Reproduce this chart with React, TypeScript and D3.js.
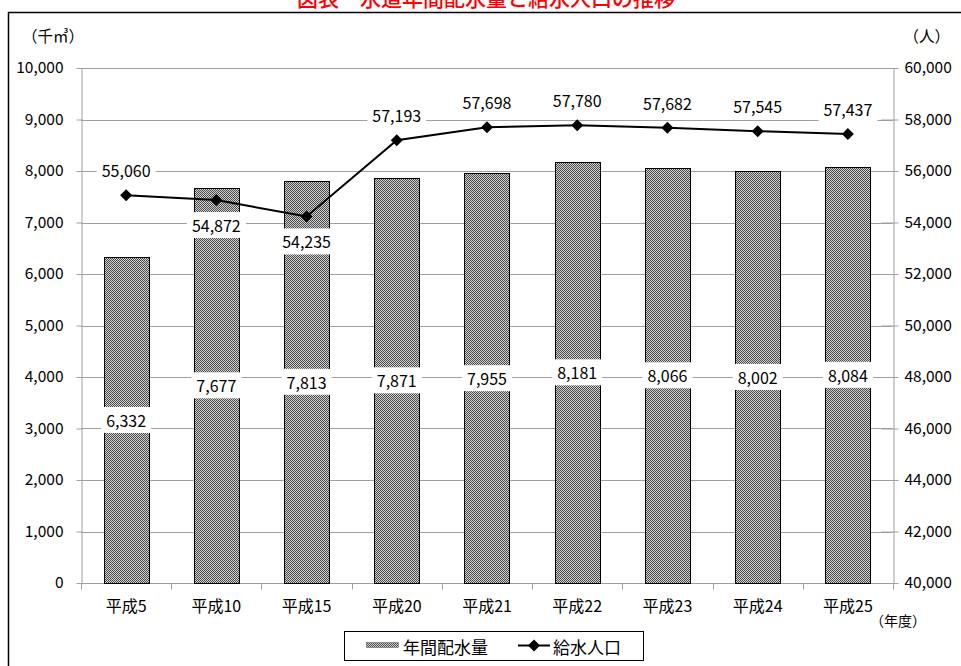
import { useEffect, useRef } from "react";
import * as d3 from "d3";

const years = ["平成5", "平成10", "平成15", "平成20", "平成21", "平成22", "平成23", "平成24", "平成25"];
const waterVolume = [6332, 7677, 7813, 7871, 7955, 8181, 8066, 8002, 8084];
const population = [55060, 54872, 54235, 57193, 57698, 57780, 57682, 57545, 57437];
const leftTicks = [0, 1000, 2000, 3000, 4000, 5000, 6000, 7000, 8000, 9000, 10000];
const rightTicks = [40000, 42000, 44000, 46000, 48000, 50000, 52000, 54000, 56000, 58000, 60000];
// population labels drawn under the marker instead of above
const labelsBelow = new Set([1, 2]);

const FONT = "'Noto Sans CJK JP', 'Noto Sans', sans-serif";

const App = () => {
  const svgRef = useRef<SVGSVGElement>(null);

  useEffect(() => {
    const svg = d3.select(svgRef.current);
    svg.selectAll("*").remove();
    const width = 961;
    const height = 666;
    const margin = { top: 68, right: 68, bottom: 83, left: 81 };

    svg.attr("width", width).attr("height", height);

    // checkered fill, drawn as a 4x4 tile
    const defs = svg.append("defs");
    const pat = defs
      .append("pattern")
      .attr("id", "checker")
      .attr("width", 4)
      .attr("height", 4)
      .attr("patternUnits", "userSpaceOnUse");
    pat.append("rect").attr("width", 4).attr("height", 4).attr("fill", "#d0d0d0");
    pat
      .append("path")
      .attr("d", "M0,0h1v1h-1zM2,0h1v1h-1zM1,1h1v1h-1zM3,1h1v1h-1zM0,2h1v1h-1zM2,2h1v1h-1zM1,3h1v1h-1zM3,3h1v1h-1z")
      .attr("fill", "#4c4c4c")
      .attr("shape-rendering", "crispEdges");

    // frame + title
    svg
      .append("path")
      .attr("d", `M8.5,${height + 5} V12.5 H${width + 5}`)
      .attr("fill", "none")
      .attr("stroke", "#000")
      .attr("stroke-width", 1.5);
    svg
      .append("text")
      .attr("x", 486)
      .attr("y", 6)
      .attr("text-anchor", "middle")
      .attr("font-family", FONT)
      .attr("font-size", 21)
      .attr("font-weight", 500)
      .attr("fill", "#ff0000")
      .text("図表　水道年間配水量と給水人口の推移");

    const x = d3
      .scaleBand()
      .domain(years)
      .range([margin.left, width - margin.right])
      .paddingInner(0.5)
      .paddingOuter(0.25);
    const yL = d3.scaleLinear().domain([0, 10000]).range([height - margin.bottom, margin.top]);
    const yR = d3.scaleLinear().domain([40000, 60000]).range([height - margin.bottom, margin.top]);

    const x0 = margin.left;
    const x1 = width - margin.right;
    const yBase = height - margin.bottom;
    const step = (x1 - x0) / years.length;

    // gridlines
    svg
      .append("g")
      .selectAll("line")
      .data(leftTicks.slice(1))
      .join("line")
      .attr("x1", x0)
      .attr("x2", x1)
      .attr("y1", (d) => Math.round(yL(d)) + 0.5)
      .attr("y2", (d) => Math.round(yL(d)) + 0.5)
      .attr("stroke", "#a0a0a0");

    // left axis
    const gL = svg
      .append("g")
      .attr("transform", `translate(${x0 + 0.5},0)`)
      .call(d3.axisLeft(yL).tickValues(leftTicks).tickFormat(d3.format(",")).tickSizeInner(5).tickSizeOuter(0).tickPadding(13));
    gL.selectAll("line").attr("x2", -5).attr("x1", 1);
    // right axis
    const gR = svg
      .append("g")
      .attr("transform", `translate(${x1 + 0.5},0)`)
      .call(d3.axisRight(yR).tickValues(rightTicks).tickFormat(d3.format(",")).tickSizeInner(5).tickSizeOuter(0).tickPadding(6));
    gR.selectAll("line").attr("x1", -12).attr("x2", 5);
    // bottom axis
    const gB = svg
      .append("g")
      .attr("transform", `translate(0,${Math.round(yBase) + 0.5})`)
      .call(d3.axisBottom(x).tickSize(0).tickPadding(17));
    gB.select(".domain").attr("d", `M${x0},0H${x1}`);
    gB
      .append("g")
      .selectAll("line")
      .data(d3.range(years.length + 1))
      .join("line")
      .attr("x1", (i) => Math.round(x0 + step * i) + 0.5)
      .attr("x2", (i) => Math.round(x0 + step * i) + 0.5)
      .attr("y1", 0)
      .attr("y2", 6)
      .attr("stroke", "#a0a0a0");

    svg.selectAll(".domain").attr("stroke", "#a0a0a0");
    svg.selectAll(".tick line").attr("stroke", "#a0a0a0");
    svg
      .selectAll(".tick text")
      .attr("font-family", FONT)
      .attr("font-size", 15.5)
      .attr("fill", "#000");
    gB.selectAll(".tick text").attr("font-size", 16);

    // bars
    svg
      .append("g")
      .selectAll("rect")
      .data(waterVolume)
      .join("rect")
      .attr("x", (d, i) => Math.round(x(years[i])!) + 0.5)
      .attr("y", (d) => Math.round(yL(d)) + 0.5)
      .attr("width", Math.round(x.bandwidth()))
      .attr("height", (d) => Math.round(yBase) - Math.round(yL(d)))
      .attr("fill", "url(#checker)")
      .attr("stroke", "#000")
      .attr("stroke-width", 1);

    // labelled text with white box
    const boxLabel = (g: any, cx: number, cy: number, txt: string) => {
      const r = g.append("rect").attr("fill", "#fff");
      const t = g
        .append("text")
        .attr("x", cx)
        .attr("y", cy)
        .attr("text-anchor", "middle")
        .attr("dominant-baseline", "central")
        .attr("font-family", FONT)
        .attr("font-size", 16)
        .text(txt);
      const bb = (t.node() as SVGTextElement).getBBox();
      r.attr("x", bb.x - 5)
        .attr("y", cy - 13)
        .attr("width", bb.width + 10)
        .attr("height", 26);
    };

    const barLabels = svg.append("g");
    waterVolume.forEach((v, i) => {
      boxLabel(barLabels, x(years[i])! + x.bandwidth() / 2, yL(v / 2), d3.format(",")(v));
    });

    // population line
    const cx = (i: number) => x(years[i])! + x.bandwidth() / 2;
    const line = d3
      .line<number>()
      .x((d, i) => cx(i))
      .y((d) => yR(d));
    svg
      .append("path")
      .attr("d", line(population)!)
      .attr("fill", "none")
      .attr("stroke", "#000")
      .attr("stroke-width", 2);
    svg
      .append("g")
      .selectAll("path")
      .data(population)
      .join("path")
      .attr("transform", (d, i) => `translate(${cx(i)},${yR(d)})`)
      .attr("d", "M0,-6L6,0L0,6L-6,0Z")
      .attr("fill", "#000");

    const popLabels = svg.append("g");
    population.forEach((v, i) => {
      const off = labelsBelow.has(i) ? 25 : -25;
      boxLabel(popLabels, cx(i), yR(v) + off, d3.format(",")(v));
    });

    // units
    const unit = (tx: number, ty: number, txt: string, size: number, anchor = "start") =>
      svg
        .append("text")
        .attr("x", tx)
        .attr("y", ty)
        .attr("text-anchor", anchor)
        .attr("dominant-baseline", "central")
        .attr("font-family", FONT)
        .attr("font-size", size)
        .text(txt);
    unit(22, 35, "（千㎥）", 15.5);
    unit(950, 35, "（人）", 15.5, "end");
    unit(870, 620, "（年度）", 14);

    // legend
    const lg = svg.append("g");
    lg.append("rect")
      .attr("x", 344.5)
      .attr("y", 631.5)
      .attr("width", 299)
      .attr("height", 29)
      .attr("fill", "#fff")
      .attr("stroke", "#000");
    lg.append("rect")
      .attr("x", 366.5)
      .attr("y", 642.5)
      .attr("width", 32)
      .attr("height", 5)
      .attr("fill", "url(#checker)")
      .attr("stroke", "#555")
      .attr("stroke-width", 0.5);
    lg.append("text")
      .attr("x", 403)
      .attr("y", 646)
      .attr("dominant-baseline", "central")
      .attr("font-family", FONT)
      .attr("font-size", 17)
      .text("年間配水量");
    lg.append("line")
      .attr("x1", 518)
      .attr("x2", 550)
      .attr("y1", 645.5)
      .attr("y2", 645.5)
      .attr("stroke", "#000")
      .attr("stroke-width", 2);
    lg.append("path")
      .attr("transform", "translate(534,645.5)")
      .attr("d", "M0,-6L6,0L0,6L-6,0Z")
      .attr("fill", "#000");
    lg.append("text")
      .attr("x", 553)
      .attr("y", 646)
      .attr("dominant-baseline", "central")
      .attr("font-family", FONT)
      .attr("font-size", 17)
      .text("給水人口");
  }, []);

  return <svg ref={svgRef} style={{ position: "absolute", left: 0, top: 0, background: "#fff" }}></svg>;
};

export default App;
